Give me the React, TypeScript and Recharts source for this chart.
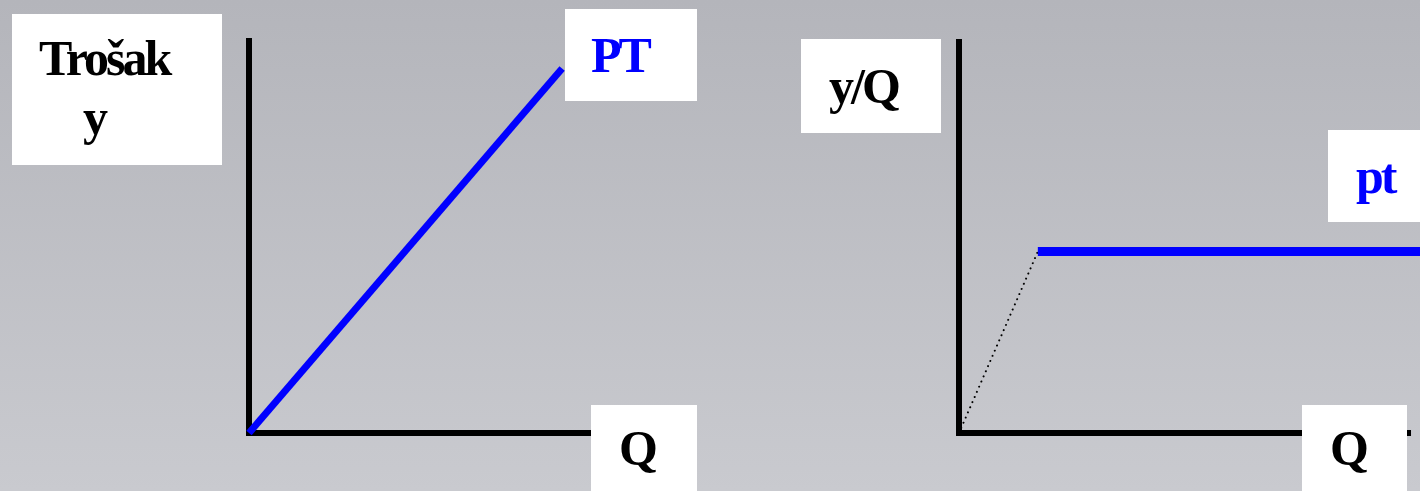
import React from 'react';
import { LineChart, Line, XAxis, YAxis, ReferenceLine } from 'recharts';

// Left panel: total cost PT grows linearly with Q
const totalQ = [0, 71];
const totalY = [0, 93];

// Right panel: average cost pt (dotted rise, then flat)
const riseQ = [0, 17.1];
const riseY = [0, 46.4];
const flatQ = [17.1, 100];
const flatY = [46.4, 46.4];

// how far each drawn axis reaches, in data units
const leftAxisEnd = 100;
const rightAxisEnd = 97.4;
const axisTop = 100;

const totalData = totalQ.map((q, i) => ({ q, v: totalY[i] }));
const riseData = riseQ.map((q, i) => ({ q, v: riseY[i] }));
const flatData = flatQ.map((q, i) => ({ q, v: flatY[i] }));

const BLUE = '#0000ff';

const textStyle: React.CSSProperties = {
  position: 'absolute',
  fontFamily: '"Liberation Serif", "Times New Roman", serif',
  fontWeight: 'bold',
  fontSize: 50,
  lineHeight: '50px',
  letterSpacing: -3,
  whiteSpace: 'nowrap',
};

// label boxes: [left, top, width, height]
const Box = ({ r }: { r: number[] }) => (
  <div
    style={{
      position: 'absolute',
      left: r[0],
      top: r[1],
      width: r[2],
      height: r[3],
      background: '#fff',
    }}
  />
);

const Txt = ({ x, y, color = '#000', children }: { x: number; y: number; color?: string; children: React.ReactNode }) => (
  <div style={{ ...textStyle, left: x, top: y, color }}>{children}</div>
);

// the two black axes, drawn as segments through the chart's scales
const axes = (xEnd: number) => [
  <ReferenceLine
    key="h"
    segment={[{ x: 0, y: 0 }, { x: xEnd, y: 0 }]}
    stroke="#000"
    strokeWidth={6}
    strokeLinecap="square"
    ifOverflow="visible"
  />,
  <ReferenceLine
    key="v"
    segment={[{ x: 0, y: 0 }, { x: 0, y: axisTop }]}
    stroke="#000"
    strokeWidth={6}
    strokeLinecap="square"
    ifOverflow="visible"
  />,
];

export default function App() {
  return (
    <div
      style={{
        position: 'fixed',
        left: 0,
        top: 0,
        width: 1420,
        height: 491,
        overflow: 'hidden',
        background: 'linear-gradient(#b4b5bb, #c9cacf)',
      }}
    >
      {/* left chart */}
      <div style={{ position: 'absolute', left: 0, top: 0 }}>
        <LineChart width={700} height={491} margin={{ top: 41, left: 249, right: 10, bottom: 58 }}>
          <XAxis type="number" dataKey="q" domain={[0, 100]} hide />
          <YAxis type="number" domain={[0, 100]} hide />
          {axes(leftAxisEnd)}
          <Line
            data={totalData}
            dataKey="v"
            stroke={BLUE}
            strokeWidth={7}
            dot={false}
            activeDot={false}
            isAnimationActive={false}
          />
        </LineChart>
      </div>

      {/* right chart */}
      <div style={{ position: 'absolute', left: 710, top: 0 }}>
        <LineChart width={710} height={491} margin={{ top: 42, left: 249, right: 0, bottom: 58 }}>
          <XAxis type="number" dataKey="q" domain={[0, 100]} hide />
          <YAxis type="number" domain={[0, 100]} hide />
          {axes(rightAxisEnd)}
          <Line
            data={riseData}
            dataKey="v"
            stroke="#000"
            strokeWidth={2}
            strokeDasharray="0.01 5.6"
            strokeLinecap="round"
            dot={false}
            activeDot={false}
            isAnimationActive={false}
          />
          <Line
            data={flatData}
            dataKey="v"
            stroke={BLUE}
            strokeWidth={9}
            dot={false}
            activeDot={false}
            isAnimationActive={false}
          />
        </LineChart>
      </div>

      {/* labels */}
      <Box r={[12, 14, 210, 151]} />
      <Txt x={39} y={33}>Trošak</Txt>
      <Txt x={83} y={92}>y</Txt>

      <Box r={[565, 9, 132, 92]} />
      <Txt x={591} y={30} color={BLUE}>PT</Txt>

      <Box r={[591, 405, 106, 86]} />
      <Txt x={619} y={423}>Q</Txt>

      <Box r={[801, 39, 140, 94]} />
      <Txt x={829} y={61}>y/Q</Txt>

      <Box r={[1328, 130, 92, 92]} />
      <Txt x={1356} y={151} color={BLUE}>pt</Txt>

      <Box r={[1302, 405, 105, 86]} />
      <Txt x={1330} y={423}>Q</Txt>
    </div>
  );
}
